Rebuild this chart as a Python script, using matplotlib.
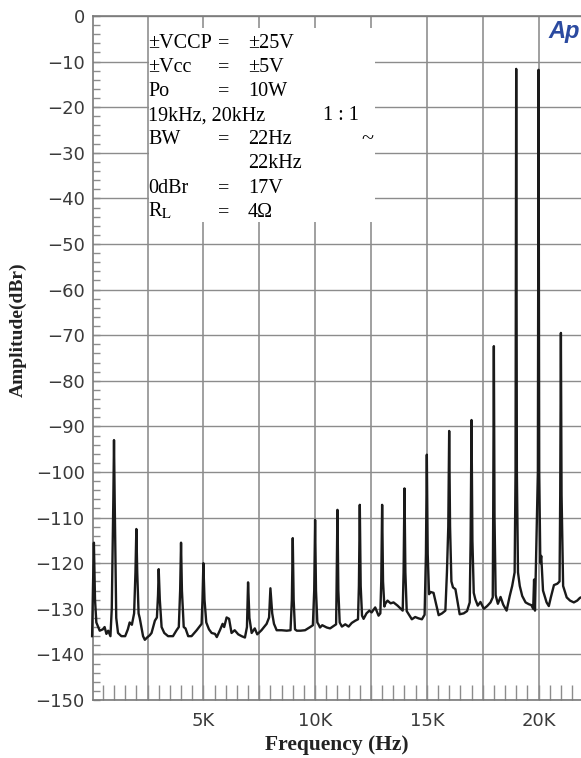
import matplotlib.pyplot as plt
import numpy as np
from matplotlib.patches import Rectangle
from matplotlib.ticker import MultipleLocator

# analyzer trace (kHz, dBr)
freq_khz = [
    0.02, 0.06, 0.10, 0.15, 0.21, 0.36, 0.50, 0.58, 0.66, 0.74, 0.84, 0.90,
    0.97, 1.00, 1.03, 1.10, 1.18, 1.33, 1.50, 1.62, 1.70, 1.80, 1.90, 1.96,
    2.00, 2.04, 2.10, 2.15, 2.30, 2.38, 2.48, 2.60, 2.68, 2.83, 2.92, 2.97,
    3.00, 3.05, 3.13, 3.25, 3.42, 3.64, 3.80, 3.90, 3.96, 4.00, 4.04, 4.12,
    4.20, 4.32, 4.47, 4.70, 4.92, 4.96, 5.00, 5.05, 5.13, 5.25, 5.37, 5.52,
    5.60, 5.74, 5.86, 5.93, 6.04, 6.15, 6.26, 6.40, 6.56, 6.71, 6.86, 6.95,
    7.00, 7.06, 7.16, 7.30, 7.41, 7.60, 7.83, 7.94, 8.00, 8.08, 8.16, 8.28,
    8.50, 8.73, 8.90, 8.96, 9.00, 9.04, 9.10, 9.18, 9.35, 9.55, 9.78, 9.90,
    9.96, 10.00, 10.04, 10.10, 10.15, 10.22, 10.32, 10.52, 10.67, 10.82, 10.94, 10.96,
    11.00, 11.04, 11.10, 11.20, 11.35, 11.50, 11.64, 11.80, 11.92, 11.96, 12.00, 12.04,
    12.10, 12.17, 12.30, 12.43, 12.53, 12.69, 12.84, 12.92, 12.96, 13.00, 13.04, 13.10,
    13.14, 13.24, 13.38, 13.51, 13.69, 13.84, 13.92, 13.96, 14.00, 14.04, 14.10, 14.23,
    14.33, 14.48, 14.63, 14.78, 14.90, 14.96, 15.00, 15.04, 15.10, 15.16, 15.30, 15.43,
    15.53, 15.68, 15.83, 15.90, 15.96, 16.00, 16.04, 16.10, 16.17, 16.28, 16.38, 16.47,
    16.65, 16.80, 16.92, 16.96, 17.00, 17.04, 17.10, 17.17, 17.28, 17.40, 17.55, 17.70,
    17.85, 17.95, 17.97, 18.00, 18.03, 18.08, 18.18, 18.30, 18.42, 18.57, 18.71, 18.82,
    18.93, 18.97, 19.00, 19.03, 19.08, 19.16, 19.27, 19.42, 19.57, 19.68, 19.76, 19.80,
    19.84, 19.97, 20.00, 20.03, 20.08, 20.12, 20.20, 20.36, 20.46, 20.55, 20.69, 20.84,
    20.94, 20.97, 21.00, 21.03, 21.10, 21.26, 21.41, 21.58, 21.73, 21.85, 21.95,
]
level_db = [
    -136.0, -125.0, -115.5, -128.0, -133.0, -134.8, -134.5, -134.0, -135.5, -134.8, -136.0, -130.0,
    -106.0, -93.0, -106.0, -132.0, -135.3, -136.0, -136.0, -134.5, -133.0, -133.5, -131.0, -122.0,
    -112.5, -122.0, -131.0, -132.0, -136.0, -136.8, -136.3, -135.8, -135.3, -132.6, -131.9, -127.0,
    -121.3, -128.0, -134.0, -135.3, -136.0, -136.0, -134.7, -134.0, -126.0, -115.5, -126.0, -134.0,
    -134.3, -136.0, -136.0, -134.7, -133.3, -128.0, -120.0, -128.0, -133.0, -134.5, -135.3, -135.5,
    -136.2, -134.7, -133.3, -134.0, -131.9, -132.2, -135.3, -134.7, -135.6, -136.0, -136.3, -134.0,
    -124.2, -132.0, -135.3, -134.3, -135.6, -134.7, -133.3, -131.9, -125.5, -131.0, -133.3, -134.7,
    -134.7, -134.8, -134.7, -128.0, -114.5, -128.0, -134.5, -134.8, -134.8, -134.7, -134.0, -133.6,
    -126.0, -110.5, -126.0, -133.0, -133.4, -134.1, -133.6, -134.1, -134.3, -133.8, -133.4, -126.0,
    -108.3, -126.0, -133.0, -133.9, -133.4, -133.9, -133.1, -132.6, -132.3, -125.0, -107.2, -125.0,
    -131.5, -132.2, -131.0, -130.4, -130.8, -129.7, -131.5, -131.0, -124.0, -107.2, -124.0, -129.5,
    -128.9, -128.2, -128.8, -128.6, -129.3, -130.0, -130.4, -122.0, -103.6, -122.0, -130.5, -131.5,
    -132.3, -131.8, -132.1, -132.3, -131.3, -118.0, -96.2, -118.0, -126.8, -126.3, -126.5, -129.3,
    -131.4, -131.0, -130.4, -122.0, -112.0, -91.0, -112.0, -124.0, -125.3, -125.7, -128.6, -131.2,
    -131.0, -130.5, -128.6, -115.0, -88.6, -115.0, -126.5, -127.9, -129.3, -128.5, -130.0, -129.4,
    -128.6, -127.5, -110.0, -72.4, -110.0, -127.0, -128.9, -127.4, -129.1, -130.4, -127.2, -125.0,
    -122.0, -100.0, -11.6, -100.0, -122.0, -125.0, -127.2, -128.6, -129.0, -129.2, -130.0, -123.6,
    -130.4, -100.0, -11.8, -100.0, -120.0, -118.4, -126.0, -128.6, -129.4, -127.5, -124.8, -124.5,
    -124.0, -105.0, -69.5, -105.0, -125.0, -127.5, -128.2, -128.6, -128.2, -127.6, -127.4,
]

tick_khz = [5, 10, 15, 20]
tick_names = ['5K', '10K', '15K', '20K']

# measurement conditions printed in the box
cond_left = ['±VCCP', '±Vcc', 'Po', '19kHz, 20kHz', 'BW', '', '0dBr', r'R$_{\mathrm{L}}$']
cond_eq = ['=', '=', '=', '', '=', '', '=', '=']
cond_val = ['±25V', '±5V', '10W', '', '22Hz', '22kHz', '17V', '4Ω']

W, H = 581, 758
plt.rcParams['mathtext.fontset'] = 'stix'

fig = plt.figure(figsize=(W / 100, H / 100), dpi=100)
ax = fig.add_axes([93 / W, 1 - 700 / H, 1 - 93 / W, 684 / H])


def px(x, y):
    return x / W, 1 - y / H


grid_col = '#8c8c8c'
ax.set_axisbelow(True)
ax.set_xlim(0.06, 21.9)
ax.set_ylim(-150, 0)

ax.set_yticks(np.arange(-150, 1, 10))
ax.yaxis.set_minor_locator(MultipleLocator(2))
ax.yaxis.grid(True, color=grid_col, lw=1.0)
for k in np.arange(2.5, 22, 2.5):
    ax.axvline(k, color='#a0a0a0', lw=1.4, zorder=0.5)

ax.set_xticks(tick_khz)
ax.set_xticklabels(tick_names)
ax.xaxis.set_minor_locator(MultipleLocator(0.5))

ax.tick_params(axis='y', which='both', direction='in', length=5, width=1,
               color=grid_col, labelsize=13, labelcolor='#3a3a3a', pad=6)
ax.tick_params(axis='x', which='both', direction='in', length=11, width=1,
               color=grid_col, labelsize=13, labelcolor='#3a3a3a', pad=9)
for lab in ax.get_xticklabels() + ax.get_yticklabels():
    lab.set_family('DejaVu Sans')

ax.spines['right'].set_visible(False)
for s in ['left', 'top', 'bottom']:
    ax.spines[s].set_color('#7a7a7a')
    ax.spines[s].set_linewidth(1.2)

# white panel behind the conditions text
x0, y0 = px(149, 222)
ax.add_patch(Rectangle((x0, y0), 226 / W, 194 / H, transform=fig.transFigure,
                       facecolor='white', edgecolor='none', zorder=1))

ax.plot(freq_khz, level_db, color='#1a1a1a', lw=1.7, zorder=3, clip_on=False)

serif = 'Liberation Serif'
for i in range(len(cond_left)):
    yb = 48 + i * 24.1
    fig.text(*px(148, yb), cond_left[i], family=serif, fontsize=14.5, va='baseline')
    fig.text(*px(218, yb), cond_eq[i], family=serif, fontsize=14.5, va='baseline')
    fig.text(*px(248, yb), cond_val[i], family=serif, fontsize=14.5, va='baseline')
fig.text(*px(323, 48 + 3 * 24.1), '1 : 1', family=serif, fontsize=14.5, va='baseline')
fig.text(*px(361, 48 + 4 * 24.1), '~', family=serif, fontsize=16, va='baseline')

fig.text(*px(548, 38), 'Ap', family='Liberation Sans', fontsize=17,
         fontweight='bold', fontstyle='italic', color='#2b4aa0', va='baseline')

fig.text(*px(18, 330), 'Amplitude(dBr)', family=serif, fontsize=14,
         fontweight='bold', rotation=90, ha='center', va='center', color='#222222')
fig.text(*px(337, 745), 'Frequency (Hz)', family=serif, fontsize=15.5,
         fontweight='bold', ha='center', va='center', color='#222222')

fig.savefig('out.png', dpi=100)
